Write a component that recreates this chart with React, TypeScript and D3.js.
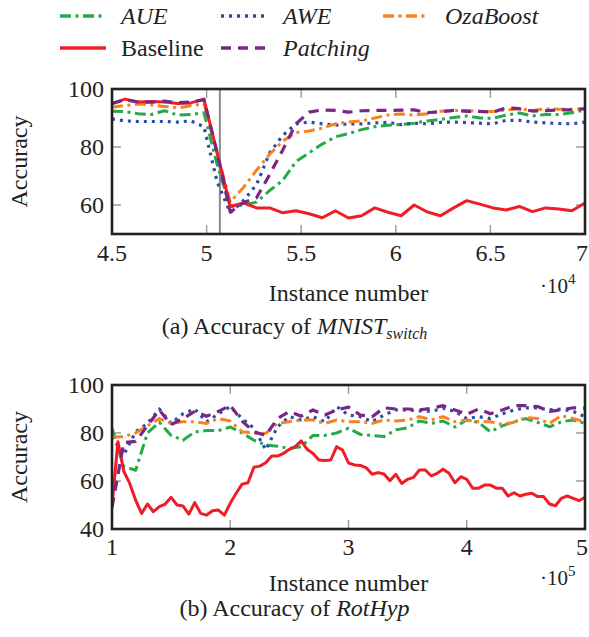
import React from "react";
import * as d3 from "d3";

// ---------- Data ----------
const seriesNames = ["AUE", "AWE", "OzaBoost", "Baseline", "Patching"];

// (a) MNIST_switch
const topX = [45000, 45694, 46389, 47083, 47778, 48472, 49167, 49861, 50556, 51250, 51944, 52639, 53333, 54028, 54722, 55417, 56111, 56806, 57500, 58194, 58889, 59583, 60278, 60972, 61667, 62361, 63056, 63750, 64444, 65139, 65833, 66528, 67222, 67917, 68611, 69306, 70000];
const topAUE = [92.3, 92.2, 91.5, 91.2, 92.5, 91, 91.2, 91.8, 74, 59.5, 60, 61, 65, 68.5, 75, 78, 81, 83.5, 84.6, 86, 87, 87.5, 87.8, 88.2, 89, 89.5, 90.2, 90.7, 90, 89.9, 91, 91.7, 90.7, 91.2, 91.2, 91.8, 92.8];
const topAWE = [89.7, 89, 88.8, 88.8, 88.8, 88.6, 89, 87, 68, 57.3, 61.5, 67, 78, 84, 88, 88.6, 88, 87.5, 88, 88, 88.3, 88.5, 87.7, 88.2, 88, 88.5, 88.6, 88.4, 88.2, 88, 89.2, 89.2, 88.6, 88.3, 88.1, 88, 88.6];
const topOzaBoost = [93.7, 94.3, 94.8, 94.5, 94, 93.5, 94.2, 95, 78, 61, 66, 72, 77.5, 82, 85, 85.5, 86.5, 88, 88.6, 89, 90, 91, 91.4, 91, 91.5, 92.3, 92.6, 92.6, 92.2, 92.2, 92.8, 93.2, 92.6, 93.2, 93, 93, 93.2];
const topBaseline = [95, 96.5, 95.5, 95.7, 95.5, 95, 95.2, 96.5, 78, 59.5, 60.7, 59, 59, 57.3, 58, 57, 55.6, 58, 55.5, 56.3, 59, 57.5, 56.3, 60, 57.6, 56.3, 59, 61.5, 60.3, 59, 58.3, 59.5, 57.7, 59, 58.6, 58, 60.7];
const topPatching = [95, 96.3, 95.5, 95.5, 95.8, 95.3, 95.5, 96.3, 78, 57.5, 60.8, 62.5, 70.5, 79, 88, 92, 92.8, 92.6, 92, 92.5, 92.6, 92.6, 92.7, 92.8, 91.8, 92.2, 92.6, 92.3, 92.3, 92, 93.5, 93.2, 92.4, 92.5, 92.8, 92.8, 93.2];
const driftPoint = 50700;
const topXTicks = [45000, 50000, 55000, 60000, 65000, 70000];
const topXTickLabels = ["4.5", "5", "5.5", "6", "6.5", "7"];
const topYTicks = [60, 80, 100];

// (b) RotHyp
const bottomX = [100000, 110000, 120000, 130000, 140000, 150000, 160000, 170000, 180000, 190000, 200000, 210000, 220000, 230000, 240000, 250000, 260000, 270000, 280000, 290000, 300000, 310000, 320000, 330000, 340000, 350000, 360000, 370000, 380000, 390000, 400000, 410000, 420000, 430000, 440000, 450000, 460000, 470000, 480000, 490000, 500000];
const bottomBaselineX = [100000, 105000, 110000, 115000, 120000, 125000, 130000, 135000, 140000, 145000, 150000, 155000, 160000, 165000, 170000, 175000, 180000, 185000, 190000, 195000, 200000, 205000, 210000, 215000, 220000, 225000, 230000, 235000, 240000, 245000, 250000, 255000, 260000, 265000, 270000, 275000, 280000, 285000, 290000, 295000, 300000, 305000, 310000, 315000, 320000, 325000, 330000, 335000, 340000, 345000, 350000, 355000, 360000, 365000, 370000, 375000, 380000, 385000, 390000, 395000, 400000, 405000, 410000, 415000, 420000, 425000, 430000, 435000, 440000, 445000, 450000, 455000, 460000, 465000, 470000, 475000, 480000, 485000, 490000, 495000, 500000];
const bottomAUE = [82, 66, 64.5, 80, 84.5, 79, 77, 80.5, 81, 81, 82.5, 80, 77, 75, 74.5, 73.6, 74.3, 79, 79, 80, 82, 79.4, 79, 78.5, 81.3, 82.2, 85, 84, 85, 82.5, 85.4, 84.4, 80.5, 83, 84.7, 86, 84.4, 82.6, 84.7, 85.4, 84];
const bottomAWE = [78.5, 71, 80.5, 84, 90, 84, 88, 90, 84.7, 88, 91, 86, 82, 73, 82.6, 86.8, 85.4, 86.8, 84.7, 91, 87.5, 86.8, 84.7, 87.5, 89.6, 89.6, 89.2, 89, 90.3, 89, 86, 86.8, 86, 88, 89.6, 90.5, 90.5, 89.6, 90, 89, 86.8];
const bottomOzaBoost = [78.3, 78.5, 80, 83, 86, 84, 84.7, 84.7, 84, 86, 85, 80.5, 80, 79.8, 84, 84.7, 85.4, 85.4, 84, 85.4, 84.7, 84.7, 84, 85.4, 85, 85.4, 86.8, 85.5, 86.8, 84.7, 85.4, 84.7, 84.7, 83.5, 84.5, 86.4, 86, 84, 87.2, 86, 84.7];
const bottomBaseline = [49.3, 76.4, 64, 59, 52, 46.5, 50.4, 47.2, 49.3, 50.4, 53.2, 50, 49.6, 46.2, 51, 46.5, 45.8, 47.6, 47.9, 45.8, 50.7, 54.9, 58.7, 59.3, 65.7, 66.2, 67.6, 70.4, 70.4, 71.5, 73.2, 74.3, 76.7, 73.2, 71.5, 68.75, 68.5, 68.75, 74.3, 72.9, 67.5, 66.7, 66.5, 65.5, 62.8, 63.5, 62.9, 60.1, 62.8, 59, 60.7, 61.5, 64.6, 64.6, 62.1, 63.2, 64.9, 63.2, 59.3, 61.8, 60.7, 57, 57, 58.3, 58.3, 57, 57, 53.75, 55.1, 53.75, 54.5, 54.9, 53.5, 53.5, 50.4, 49.7, 52.8, 53.75, 52.8, 51.8, 53.2];
const bottomPatching = [49, 76, 76.5, 83, 89.6, 83.5, 86, 89, 87, 89, 91.5, 85, 80.5, 79, 86, 89, 87, 89.6, 87.5, 89.6, 90.8, 87.5, 86.8, 90.5, 90, 90, 89.6, 90.3, 91.4, 89.6, 87.8, 90, 88, 89.6, 91.4, 91.4, 91, 89, 89.6, 90.5, 90.3];
const bottomXTicks = [100000, 200000, 300000, 400000, 500000];
const bottomXTickLabels = ["1", "2", "3", "4", "5"];
const bottomYTicks = [40, 60, 80, 100];

// ---------- Styles ----------
const styles: Record<string, { color: string; dash: string; width: number; italic: boolean }> = {
  AUE: { color: "#22ab47", dash: "11,4.5,3,4.5", width: 3, italic: true },
  AWE: { color: "#2f4fa6", dash: "3,5", width: 3.2, italic: true },
  OzaBoost: { color: "#f7821f", dash: "11,4.5,3,4.5", width: 3, italic: true },
  Baseline: { color: "#ee1d26", dash: "", width: 3, italic: false },
  Patching: { color: "#7b2684", dash: "10,7", width: 3.2, italic: true },
};

const FONT = "'Liberation Serif', 'Times New Roman', serif";
const W = 589;
const H = 637;
const LEFT = 112;
const RIGHT = 585;

type Series = { name: string; xs: number[]; ys: number[] };

function Panel(props: {
  top: number;
  bottom: number;
  xDomain: [number, number];
  yDomain: [number, number];
  xTicks: number[];
  xTickLabels: string[];
  yTicks: number[];
  series: Series[];
  exponent: string;
  vline?: number;
  id: string;
  tickLabelY: number;
  xLabelY: number;
  expY: number;
}) {
  const x = d3.scaleLinear().domain(props.xDomain).range([LEFT, RIGHT]);
  const y = d3.scaleLinear().domain(props.yDomain).range([props.bottom, props.top]);
  const tickLen = 9;
  const midY = (props.top + props.bottom) / 2;
  return (
    <g>
      <defs>
        <clipPath id={props.id}>
          <rect x={LEFT} y={props.top} width={RIGHT - LEFT} height={props.bottom - props.top} />
        </clipPath>
      </defs>
      {props.xTicks.map((t, i) => (
        <g key={"xt" + i}>
          <line x1={x(t)} x2={x(t)} y1={props.bottom} y2={props.bottom - tickLen} stroke="#999" strokeWidth={1.4} />
          <line x1={x(t)} x2={x(t)} y1={props.top} y2={props.top + tickLen} stroke="#999" strokeWidth={1.4} />
          <text
            x={Math.min(x(t), W - 7)}
            y={props.tickLabelY}
            textAnchor="middle"
            fontSize={24}
            fontFamily={FONT}
            fill="#222"
          >
            {props.xTickLabels[i]}
          </text>
        </g>
      ))}
      {props.yTicks.map((t, i) => (
        <g key={"yt" + i}>
          <line x1={LEFT} x2={LEFT + tickLen} y1={y(t)} y2={y(t)} stroke="#999" strokeWidth={1.4} />
          <line x1={RIGHT} x2={RIGHT - tickLen} y1={y(t)} y2={y(t)} stroke="#999" strokeWidth={1.4} />
          <text x={104} y={y(t)} dy="0.35em" textAnchor="end" fontSize={24} fontFamily={FONT} fill="#222">
            {t}
          </text>
        </g>
      ))}
      {props.vline !== undefined && (
        <line x1={x(props.vline)} x2={x(props.vline)} y1={props.top} y2={props.bottom} stroke="#8a8a8a" strokeWidth={2} />
      )}
      <g clipPath={`url(#${props.id})`}>
        {props.series.map((s) => {
          const st = styles[s.name];
          const line = d3
            .line<number>()
            .x((_, i) => x(s.xs[i]))
            .y((d) => y(d));
          return (
            <path
              key={s.name}
              d={line(s.ys) || ""}
              fill="none"
              stroke={st.color}
              strokeWidth={st.width}
              strokeDasharray={st.dash || undefined}
              strokeLinejoin="round"
            />
          );
        })}
      </g>
      <rect x={LEFT} y={props.top} width={RIGHT - LEFT} height={props.bottom - props.top} fill="none" stroke="#222" strokeWidth={2.6} />
      <text transform={`translate(27,${midY}) rotate(-90)`} textAnchor="middle" fontSize={24} fontFamily={FONT} fill="#222">
        Accuracy
      </text>
      <text x={(LEFT + RIGHT) / 2} y={props.xLabelY} textAnchor="middle" fontSize={24} fontFamily={FONT} fill="#222">
        Instance number
      </text>
      <text x={540} y={props.expY} fontSize={21} fontFamily={FONT} fill="#222">
        ·10
        <tspan fontSize={15} dy={-9}>
          {props.exponent}
        </tspan>
      </text>
    </g>
  );
}

export default function App() {
  const legendItems = [
    { name: "AUE", lx: 60, tx: 121, y: 16 },
    { name: "AWE", lx: 221, tx: 283, y: 16 },
    { name: "OzaBoost", lx: 383, tx: 445, y: 16 },
    { name: "Baseline", lx: 60, tx: 121, y: 48 },
    { name: "Patching", lx: 221, tx: 283, y: 48 },
  ];
  const topSeries: Series[] = [
    { name: "AUE", xs: topX, ys: topAUE },
    { name: "AWE", xs: topX, ys: topAWE },
    { name: "OzaBoost", xs: topX, ys: topOzaBoost },
    { name: "Baseline", xs: topX, ys: topBaseline },
    { name: "Patching", xs: topX, ys: topPatching },
  ];
  const bottomSeries: Series[] = [
    { name: "AUE", xs: bottomX, ys: bottomAUE },
    { name: "AWE", xs: bottomX, ys: bottomAWE },
    { name: "OzaBoost", xs: bottomX, ys: bottomOzaBoost },
    { name: "Baseline", xs: bottomBaselineX, ys: bottomBaseline },
    { name: "Patching", xs: bottomX, ys: bottomPatching },
  ];
  return (
    <svg width={W} height={H} style={{ position: "absolute", left: 0, top: 0, background: "#fff" }}>
      {legendItems.map((it) => {
        const st = styles[it.name];
        return (
          <g key={it.name}>
            <line
              x1={it.lx}
              x2={it.lx + 46}
              y1={it.y}
              y2={it.y}
              stroke={st.color}
              strokeWidth={st.width + 0.4}
              strokeDasharray={st.dash || undefined}
            />
            <text x={it.tx} y={it.y + 8} fontSize={24} fontFamily={FONT} fontStyle={st.italic ? "italic" : "normal"} fill="#222">
              {it.name}
            </text>
          </g>
        );
      })}
      <Panel
        id="clipTop"
        top={89}
        bottom={234}
        xDomain={[45000, 70000]}
        yDomain={[50, 100]}
        xTicks={topXTicks}
        xTickLabels={topXTickLabels}
        yTicks={topYTicks}
        series={topSeries}
        exponent="4"
        vline={driftPoint}
        tickLabelY={261}
        xLabelY={301}
        expY={293}
      />
      <text x={W / 2} y={334} textAnchor="middle" fontSize={24} fontFamily={FONT} fill="#222">
        (a) Accuracy of <tspan fontStyle="italic">MNIST</tspan>
        <tspan fontStyle="italic" fontSize={16} dy={5}>switch</tspan>
      </text>
      <Panel
        id="clipBottom"
        top={385}
        bottom={529}
        xDomain={[100000, 500000]}
        yDomain={[40, 100]}
        xTicks={bottomXTicks}
        xTickLabels={bottomXTickLabels}
        yTicks={bottomYTicks}
        series={bottomSeries}
        exponent="5"
        tickLabelY={555}
        xLabelY={591}
        expY={585}
      />
      <text x={W / 2} y={616} textAnchor="middle" fontSize={24} fontFamily={FONT} fill="#222">
        (b) Accuracy of <tspan fontStyle="italic">RotHyp</tspan>
      </text>
    </svg>
  );
}
